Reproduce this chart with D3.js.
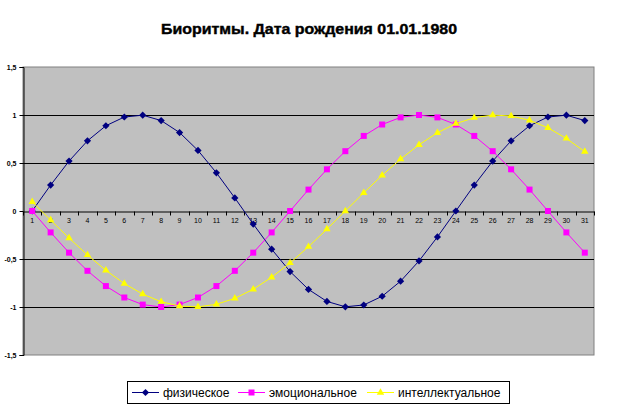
<!DOCTYPE html>
<html>
<head>
<meta charset="utf-8">
<script src="https://cdn.jsdelivr.net/npm/d3@7"></script>
<style>
  body { margin: 0; background: #fff; }
  svg { display: block; font-family: Arial, "Liberation Sans", sans-serif; }
</style>
</head>
<body>
<svg id="chart" width="620" height="413"></svg>
<script>
// biorhythm chart, values
const days = d3.range(1, 32)
const physical = [0, 0.27, 0.52, 0.731, 0.888, 0.979, 0.998, 0.942, 0.817, 0.631, 0.398, 0.136,
  -0.136, -0.398, -0.631, -0.817, -0.942, -0.998, -0.979, -0.888, -0.731, -0.52, -0.27,
  0, 0.27, 0.52, 0.731, 0.888, 0.979, 0.998, 0.942]
const emotional = [0, -0.223, -0.434, -0.623, -0.782, -0.901, -0.975, -1, -0.975, -0.901, -0.782,
  -0.623, -0.434, -0.223, 0, 0.223, 0.434, 0.623, 0.782, 0.901, 0.975, 1, 0.975, 0.901,
  0.782, 0.623, 0.434, 0.223, 0, -0.223, -0.434]
const intellectual = [0.095, -0.095, -0.282, -0.458, -0.618, -0.756, -0.866, -0.945, -0.99, -0.999,
  -0.972, -0.91, -0.815, -0.69, -0.541, -0.372, -0.189, 0, 0.189, 0.372, 0.541, 0.69, 0.815,
  0.91, 0.972, 0.999, 0.99, 0.945, 0.866, 0.756, 0.618]
const yTicks = [-1.5, -1, -0.5, 0, 0.5, 1, 1.5]
const seriesNames = ['физическое', 'эмоциональное', 'интеллектуальное']
const title = 'Биоритмы. Дата рождения 01.01.1980'

// excel-style square diamond, wider than d3.symbolDiamond
const wideDiamond = {
  draw(context, size) {
    const r = Math.sqrt(size / 2)
    context.moveTo(0, -r)
    context.lineTo(r, 0)
    context.lineTo(0, r)
    context.lineTo(-r, 0)
    context.closePath()
  },
}

const series = [
  { name: seriesNames[0], values: physical, color: '#000080', symbol: wideDiamond, size: 26 },
  { name: seriesNames[1], values: emotional, color: '#ff00ff', symbol: d3.symbolSquare, size: 36 },
  { name: seriesNames[2], values: intellectual, color: '#ffff00', symbol: d3.symbolTriangle, size: 24 },
]

const plot = { left: 23, top: 67, right: 594, bottom: 355 }
const svg = d3.select('#chart')

const x = d3.scaleBand().domain(days).range([plot.left, plot.right]).padding(0)
const y = d3.scaleLinear().domain([-1.5, 1.5]).range([plot.bottom, plot.top])
const cx = (d) => x(d) + x.bandwidth() / 2

svg.append('text')
  .attr('x', 309)
  .attr('y', 34)
  .attr('text-anchor', 'middle')
  .attr('font-size', 14)
  .attr('font-weight', 'bold')
  .attr('stroke', '#000')
  .attr('stroke-width', 0.4)
  .attr('textLength', 296)
  .attr('lengthAdjust', 'spacingAndGlyphs')
  .text(title)

// plot area
svg.append('rect')
  .attr('x', plot.left).attr('y', plot.top)
  .attr('width', plot.right - plot.left).attr('height', plot.bottom - plot.top)
  .attr('fill', '#c0c0c0')
  .attr('stroke', '#808080')
  .attr('stroke-width', 1)

svg.append('g')
  .selectAll('line')
  .data(yTicks.filter((v) => v !== 0 && Math.abs(v) < 1.5))
  .join('line')
  .attr('x1', plot.left).attr('x2', plot.right)
  .attr('y1', (d) => Math.round(y(d)) + 0.5).attr('y2', (d) => Math.round(y(d)) + 0.5)
  .attr('stroke', '#000')

// y axis
const yAxis = svg.append('g')
  .attr('transform', `translate(${plot.left + 0.5},0)`)
  .call(d3.axisLeft(y).tickValues(yTicks).tickSize(4).tickPadding(3)
    .tickFormat((d) => String(d).replace('.', ',')))
yAxis.select('.domain').attr('stroke', '#000')
yAxis.selectAll('text').attr('font-size', 7).attr('font-weight', 'bold').attr('font-family', 'Arial, "Liberation Sans", sans-serif')

// x axis on the zero line
const y0 = Math.round(y(0)) + 0.5
const xAxis = svg.append('g')
  .attr('transform', `translate(0,${y0})`)
  .call(d3.axisBottom(x).tickSize(0).tickPadding(7))
xAxis.select('.domain').attr('stroke', '#000')
xAxis.selectAll('text').attr('font-size', 7).attr('font-family', 'Arial, "Liberation Sans", sans-serif')
xAxis.selectAll('.boundary')
  .data(days.concat([32]))
  .join('line')
  .attr('class', 'boundary')
  .attr('x1', (d, i) => Math.round(plot.left + i * x.step()) + 0.5)
  .attr('x2', (d, i) => Math.round(plot.left + i * x.step()) + 0.5)
  .attr('y1', 0).attr('y2', 4)
  .attr('stroke', '#000')

const line = d3.line().x((d, i) => cx(days[i])).y((d) => y(d))

series.forEach((s) => {
  const g = svg.append('g')
  g.append('path')
    .datum(s.values)
    .attr('fill', 'none')
    .attr('stroke', s.color)
    .attr('stroke-width', 1)
    .attr('d', line)
  g.selectAll('path.mark')
    .data(s.values)
    .join('path')
    .attr('class', 'mark')
    .attr('transform', (d, i) => `translate(${cx(days[i])},${y(d)})`)
    .attr('d', d3.symbol(s.symbol, s.size))
    .attr('fill', s.color)
})

// legend
const legend = svg.append('g')
legend.append('rect')
  .attr('x', 127.5).attr('y', 381.5).attr('width', 382).attr('height', 22)
  .attr('fill', '#fff').attr('stroke', '#000')
const legendX = [132, 238, 367]
series.forEach((s, i) => {
  const lg = legend.append('g').attr('transform', `translate(${legendX[i]},392.5)`)
  lg.append('line').attr('x1', 0).attr('x2', 27).attr('stroke', s.color)
  lg.append('path').attr('transform', 'translate(13.5,0)').attr('d', d3.symbol(s.symbol, s.size)).attr('fill', s.color)
  lg.append('text').attr('x', 31).attr('y', 4.5).attr('font-size', 12).text(s.name)
})
</script>
</body>
</html>
